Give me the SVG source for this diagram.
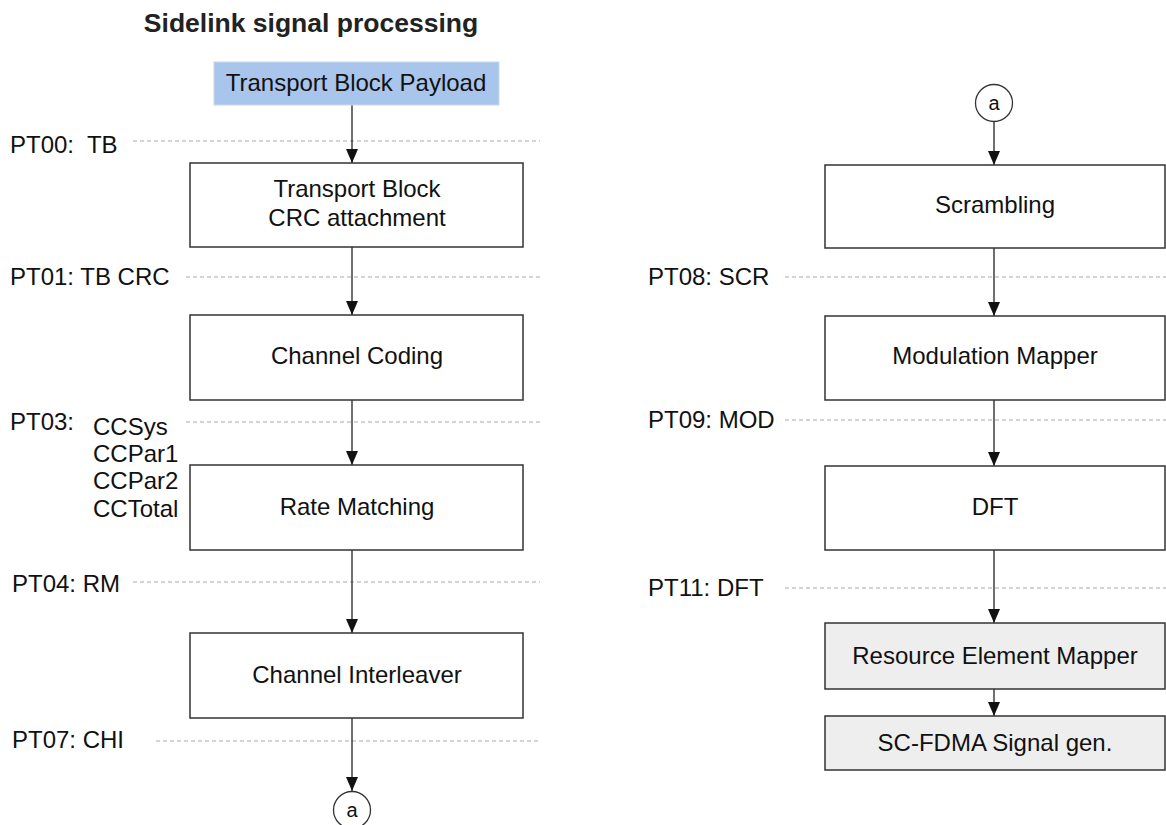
<svg xmlns="http://www.w3.org/2000/svg" width="1166" height="825" viewBox="0 0 1166 825">
<defs>
<marker id="ah" markerWidth="14" markerHeight="12" refX="14" refY="6" orient="auto" markerUnits="userSpaceOnUse" viewBox="0 0 14 12">
<path d="M0,0 L14,6 L0,12 Z" fill="#111"/>
</marker>
</defs>
<style>
text{font-family:"Liberation Sans",Arial,sans-serif;font-size:24px;fill:#111}
.title{font-weight:bold;font-size:26.5px;fill:#222}
.box{fill:#fff;stroke:#333;stroke-width:1.5}
.grey{fill:#eeeeee;stroke:#333;stroke-width:1.5}
.blue{fill:#a9c5eb;stroke:#c5d7f0;stroke-width:1}
.c{text-anchor:middle}
.dash{stroke:#aaa;stroke-width:1.2;stroke-dasharray:4 3;fill:none}
.edge{stroke:#333;stroke-width:1.4;fill:none}
.circ{fill:#fff;stroke:#333;stroke-width:1.3}
</style>
<rect width="1166" height="825" fill="#fff"/>
<text class="title c" x="311" y="32">Sidelink signal processing</text>

<g id="probes">
<line class="dash" x1="133" y1="141" x2="540" y2="141"/>
<text x="10" y="153" xml:space="preserve">PT00:  TB</text>
<line class="dash" x1="186" y1="277" x2="540" y2="277"/>
<text x="10" y="285">PT01: TB CRC</text>
<line class="dash" x1="186" y1="422" x2="540" y2="422"/>
<text x="10" y="430">PT03:</text>
<text x="93" y="435">CCSys</text>
<text x="93" y="462">CCPar1</text>
<text x="93" y="489">CCPar2</text>
<text x="93" y="517">CCTotal</text>
<line class="dash" x1="133" y1="582" x2="540" y2="582"/>
<text x="12" y="592">PT04: RM</text>
<line class="dash" x1="156" y1="741" x2="540" y2="741"/>
<text x="12" y="748">PT07: CHI</text>
<line class="dash" x1="785" y1="277" x2="1166" y2="277"/>
<text x="648" y="285">PT08: SCR</text>
<line class="dash" x1="785" y1="420" x2="1166" y2="420"/>
<text x="648" y="428">PT09: MOD</text>
<line class="dash" x1="785" y1="588" x2="1166" y2="588"/>
<text x="648" y="596">PT11: DFT</text>
</g>

<g id="connectors">
<line class="edge" x1="352" y1="105" x2="352" y2="163" marker-end="url(#ah)"/>
<line class="edge" x1="352" y1="247" x2="352" y2="315" marker-end="url(#ah)"/>
<line class="edge" x1="352" y1="400" x2="352" y2="465" marker-end="url(#ah)"/>
<line class="edge" x1="352" y1="550" x2="352" y2="633" marker-end="url(#ah)"/>
<line class="edge" x1="352" y1="718" x2="352" y2="791" marker-end="url(#ah)"/>
<line class="edge" x1="994" y1="122" x2="994" y2="165" marker-end="url(#ah)"/>
<line class="edge" x1="994" y1="248" x2="994" y2="316" marker-end="url(#ah)"/>
<line class="edge" x1="994" y1="400" x2="994" y2="466" marker-end="url(#ah)"/>
<line class="edge" x1="994" y1="550" x2="994" y2="623" marker-end="url(#ah)"/>
<line class="edge" x1="994" y1="689" x2="994" y2="716" marker-end="url(#ah)"/>
</g>

<g id="tbp"><rect class="blue" x="214" y="62" width="285" height="43"/><text class="c" x="356" y="91">Transport Block Payload</text></g>
<g id="crc"><rect class="box" x="190" y="163" width="333" height="84"/><text class="c" x="357" y="197">Transport Block</text><text class="c" x="357" y="226">CRC attachment</text></g>
<g id="cc"><rect class="box" x="190" y="315" width="333" height="85"/><text class="c" x="357" y="364">Channel Coding</text></g>
<g id="rm"><rect class="box" x="190" y="465" width="333" height="85"/><text class="c" x="357" y="515">Rate Matching</text></g>
<g id="chi"><rect class="box" x="190" y="633" width="333" height="85"/><text class="c" x="357" y="683">Channel Interleaver</text></g>
<g id="conA"><circle class="circ" cx="352" cy="810" r="18.5"/><text class="c" x="352" y="817" style="font-size:20px">a</text></g>

<g id="conB"><circle class="circ" cx="994" cy="103" r="18.5"/><text class="c" x="994" y="110" style="font-size:20px">a</text></g>
<g id="scr"><rect class="box" x="825" y="165" width="340" height="83"/><text class="c" x="995" y="213">Scrambling</text></g>
<g id="mod"><rect class="box" x="825" y="316" width="340" height="84"/><text class="c" x="995" y="364">Modulation Mapper</text></g>
<g id="dft"><rect class="box" x="825" y="466" width="340" height="84"/><text class="c" x="995" y="515">DFT</text></g>
<g id="rem"><rect class="grey" x="825" y="623" width="340" height="66"/><text class="c" x="995" y="664">Resource Element Mapper</text></g>
<g id="scf"><rect class="grey" x="825" y="716" width="340" height="54"/><text class="c" x="995" y="751">SC-FDMA Signal gen.</text></g>
</svg>
